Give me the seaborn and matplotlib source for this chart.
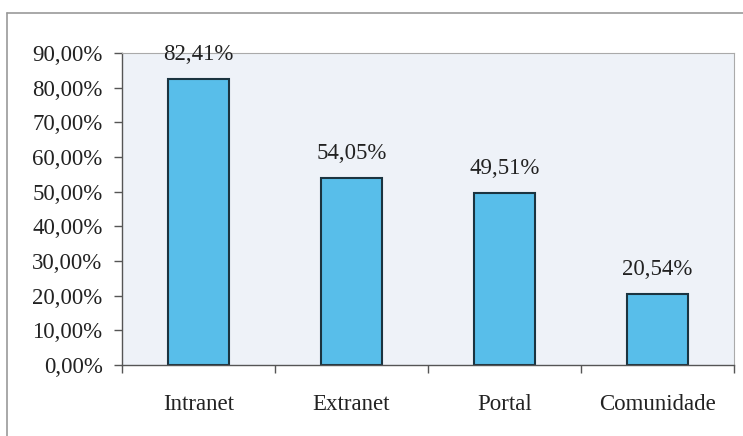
import matplotlib
matplotlib.use("Agg")
import matplotlib.pyplot as plt
import seaborn as sns
import pandas as pd
from matplotlib.lines import Line2D
from matplotlib.ticker import FuncFormatter, MultipleLocator

categories = ["Intranet", "Extranet", "Portal", "Comunidade"]
values = [82.41, 54.05, 49.51, 20.54]
value_labels = ["82,41%", "54,05%", "49,51%", "20,54%"]

sns.set_theme(style="white")
plt.rcParams['font.family'] = ['Liberation Serif', 'DejaVu Serif']

df = pd.DataFrame({"cat": categories, "val": values})

fig = plt.figure(figsize=(7.43, 4.36), dpi=100)
ax = fig.add_axes([122/743, 1-365/436, (734-122)/743, (365-53)/436])
ax.set_facecolor("#EEF2F8")

sns.barplot(data=df, x="cat", y="val", ax=ax, color="#58BEEA",
            saturation=1, width=0.40, edgecolor="#1B3440", linewidth=1.5)

ax.set_ylim(0, 90)
ax.set_xlim(-0.5, 3.5)
ax.yaxis.set_major_locator(MultipleLocator(10))
ax.yaxis.set_major_formatter(FuncFormatter(lambda v, p: f"{v:.2f}".replace(".", ",") + "%"))
ax.set_xlabel("")
ax.set_ylabel("")

ax.set_xticks([-0.5, 0.5, 1.5, 2.5, 3.5], minor=False)
ax.set_xticklabels([])
ax.set_xticks(range(len(categories)), minor=True)
ax.set_xticklabels(categories, minor=True)
ax.tick_params(axis="x", which="major", direction="out", length=6, width=1, color="#555555", bottom=True)
ax.tick_params(axis="x", which="minor", length=0, pad=21, labelsize=16.5, labelcolor="#222222")
ax.tick_params(axis="y", direction="out", length=6, width=1, color="#555555", left=True, pad=8,
               labelsize=16.5, labelcolor="#222222")

for s in ["left", "bottom"]:
    ax.spines[s].set_color("#555555")
    ax.spines[s].set_linewidth(1.0)
for s in ["top", "right"]:
    ax.spines[s].set_color("#AAAAAA")
    ax.spines[s].set_linestyle((0, (2, 1)))
    ax.spines[s].set_linewidth(0.8)

for i, (v, lab) in enumerate(zip(values, value_labels)):
    ax.annotate(lab, (i, v), xytext=(0, 10), textcoords="offset points",
                ha="center", va="bottom", fontsize=16.5, color="#222222",
                annotation_clip=False)

fig.add_artist(Line2D([7/743, 1.0], [1-13/436, 1-13/436], transform=fig.transFigure,
                      color="#999999", linewidth=1.2))
fig.add_artist(Line2D([7/743, 7/743], [0, 1-13/436], transform=fig.transFigure,
                      color="#999999", linewidth=1.2))

fig.savefig("out.png", dpi=100, facecolor="white")
